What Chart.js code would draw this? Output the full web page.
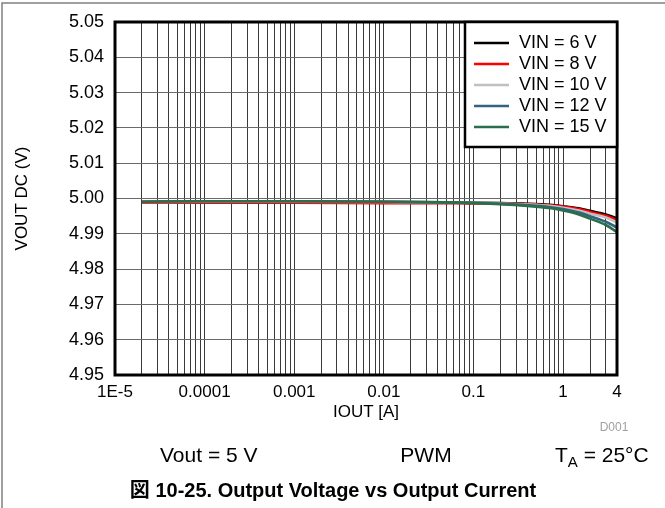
<!DOCTYPE html>
<html>
<head>
<meta charset="utf-8">
<script src="https://cdn.jsdelivr.net/npm/chart.js@4"></script>
<style>
  body { margin: 0; background: #fff; }
  canvas { display: block; }
</style>
</head>
<body>
<canvas id="chart" width="665" height="508"></canvas>
<script>
// Output current points (A)
const iout = [2e-5, 1e-4, 1e-3, 0.01, 0.05, 0.1, 0.2, 0.4, 0.7, 1, 1.5, 2, 3, 4];

// VOUT DC (V) for each input voltage
const vin6  = [4.9990, 4.9991, 4.9991, 4.9990, 4.9989, 4.9988, 4.9987, 4.9985, 4.9982, 4.9978, 4.9972, 4.9965, 4.9955, 4.9944];
const vin8  = [4.9988, 4.9988, 4.9988, 4.9987, 4.9987, 4.9986, 4.9986, 4.9984, 4.9981, 4.9977, 4.9970, 4.9962, 4.9951, 4.9939];
const vin10 = [4.9990, 4.9991, 4.9991, 4.9990, 4.9989, 4.9988, 4.9986, 4.9983, 4.9979, 4.9974, 4.9966, 4.9957, 4.9946, 4.9932];
const vin12 = [4.9991, 4.9992, 4.9992, 4.9991, 4.9989, 4.9988, 4.9985, 4.9981, 4.9976, 4.9970, 4.9960, 4.9950, 4.9934, 4.9918];
const vin15 = [4.9991, 4.9992, 4.9992, 4.9991, 4.9989, 4.9987, 4.9984, 4.9979, 4.9973, 4.9966, 4.9955, 4.9943, 4.9925, 4.9905];

const seriesLabels = ['VIN = 6 V', 'VIN = 8 V', 'VIN = 10 V', 'VIN = 12 V', 'VIN = 15 V'];
const seriesColors = ['#000000', '#ff0000', '#c0c0c0', '#33647f', '#2b6e4c'];
const seriesValues = [vin6, vin8, vin10, vin12, vin15];

// x tick labels (log axis)
const xTickValues = [1e-5, 1e-4, 1e-3, 0.01, 0.1, 1, 4];
const xTickLabels = ['1E-5', '0.0001', '0.001', '0.01', '0.1', '1', '4'];

const FONT = '"Liberation Sans", Arial, sans-serif';

const datasets = seriesValues.map((vals, i) => ({
  label: seriesLabels[i],
  data: iout.map((x, j) => ({ x: x, y: vals[j] })),
  borderColor: seriesColors[i],
  backgroundColor: seriesColors[i],
  borderWidth: 2.6,
  pointRadius: 0,
  cubicInterpolationMode: 'monotone',
  order: seriesValues.length - i // last series on top
}));

// legend box inside the plot + border + notes under the chart
const decorPlugin = {
  id: 'decor',
  afterDatasetsDraw(chart) {
    const ctx = chart.ctx;
    const a = chart.chartArea;
    // plot border
    ctx.save();
    ctx.strokeStyle = '#000';
    ctx.lineWidth = 3;
    ctx.strokeRect(a.left, a.top, a.right - a.left, a.bottom - a.top);

    // legend
    const w = 152, h = 125;
    const lx = a.right - w, ly = a.top;
    ctx.fillStyle = '#fff';
    ctx.fillRect(lx, ly, w, h);
    ctx.lineWidth = 2.5;
    ctx.strokeRect(lx, ly, w, h);
    ctx.font = '18px ' + FONT;
    ctx.textBaseline = 'middle';
    chart.data.datasets.forEach((ds, i) => {
      const y = ly + 21 + i * 21;
      ctx.strokeStyle = ds.borderColor;
      ctx.lineWidth = 2.5;
      ctx.beginPath();
      ctx.moveTo(lx + 9, y);
      ctx.lineTo(lx + 44, y);
      ctx.stroke();
      ctx.fillStyle = '#000';
      ctx.fillText(ds.label, lx + 54, y);
    });
    ctx.restore();
  },
  afterDraw(chart) {
    const ctx = chart.ctx;
    ctx.save();
    // outer frame
    ctx.strokeStyle = '#808080';
    ctx.lineWidth = 1.5;
    ctx.beginPath();
    ctx.moveTo(665, 3);
    ctx.lineTo(2, 3);
    ctx.lineTo(2, 508);
    ctx.stroke();

    ctx.textBaseline = 'middle';
    ctx.fillStyle = '#a0a0a0';
    ctx.font = '12px ' + FONT;
    ctx.textAlign = 'center';
    ctx.fillText('D001', 614, 428);

    ctx.fillStyle = '#000';
    ctx.font = '21px ' + FONT;
    ctx.textAlign = 'left';
    ctx.fillText('Vout = 5 V', 160, 456);
    ctx.textAlign = 'center';
    ctx.fillText('PWM', 426, 456);

    // T_A = 25°C
    ctx.textAlign = 'left';
    let x = 555;
    ctx.fillText('T', x, 456);
    x += ctx.measureText('T').width;
    ctx.font = '15px ' + FONT;
    ctx.fillText('A', x, 463);
    x += ctx.measureText('A').width;
    ctx.font = '21px ' + FONT;
    ctx.fillText(' = 25°C', x, 456);

    ctx.font = 'bold 20px ' + FONT + ', "Noto Sans CJK JP"';
    ctx.textAlign = 'center';
    ctx.fillText('図 10-25. Output Voltage vs Output Current', 333, 491);
    ctx.restore();
  }
};

new Chart(document.getElementById('chart'), {
  type: 'line',
  data: { datasets: datasets },
  options: {
    responsive: false,
    animation: false,
    devicePixelRatio: 1,
    layout: { padding: { left: 0, top: 22, right: 48, bottom: 0 } },
    plugins: {
      legend: { display: false },
      tooltip: { enabled: false }
    },
    scales: {
      x: {
        type: 'logarithmic',
        min: 1e-5,
        max: 4,
        afterBuildTicks(scale) {
          const ticks = [];
          for (let e = -5; e <= 0; e++) {
            for (let m = 1; m <= 9; m++) {
              const v = m * Math.pow(10, e);
              if (v <= 4.0001) ticks.push({ value: v });
            }
          }
          scale.ticks = ticks;
        },
        afterFit(scale) { scale.height = 133; },
        ticks: {
          autoSkip: false,
          maxRotation: 0,
          padding: 7,
          color: '#000',
          font: { family: FONT, size: 17 },
          callback(value) {
            const k = xTickValues.findIndex(t => Math.abs(t - value) / t < 1e-6);
            return k >= 0 ? xTickLabels[k] : '';
          }
        },
        grid: {
          drawTicks: false,
          color: '#3a3a3a',
          lineWidth: 1
        },
        border: { display: false },
        title: {
          display: true,
          text: 'IOUT [A]',
          color: '#000',
          font: { family: FONT, size: 17 },
          padding: { top: 0, bottom: 85 }
        }
      },
      y: {
        type: 'linear',
        min: 4.95,
        max: 5.05,
        afterFit(scale) { scale.width = 115; },
        ticks: {
          stepSize: 0.01,
          padding: 11,
          color: '#000',
          font: { family: FONT, size: 18 },
          callback(value) { return value.toFixed(2); }
        },
        grid: {
          drawTicks: false,
          color: '#6a6a6a',
          lineWidth: 1
        },
        border: { display: false },
        title: {
          display: true,
          text: 'VOUT DC (V)',
          color: '#000',
          font: { family: FONT, size: 17 },
          padding: { top: 12, bottom: 0 }
        }
      }
    }
  },
  plugins: [decorPlugin]
});
</script>
</body>
</html>
